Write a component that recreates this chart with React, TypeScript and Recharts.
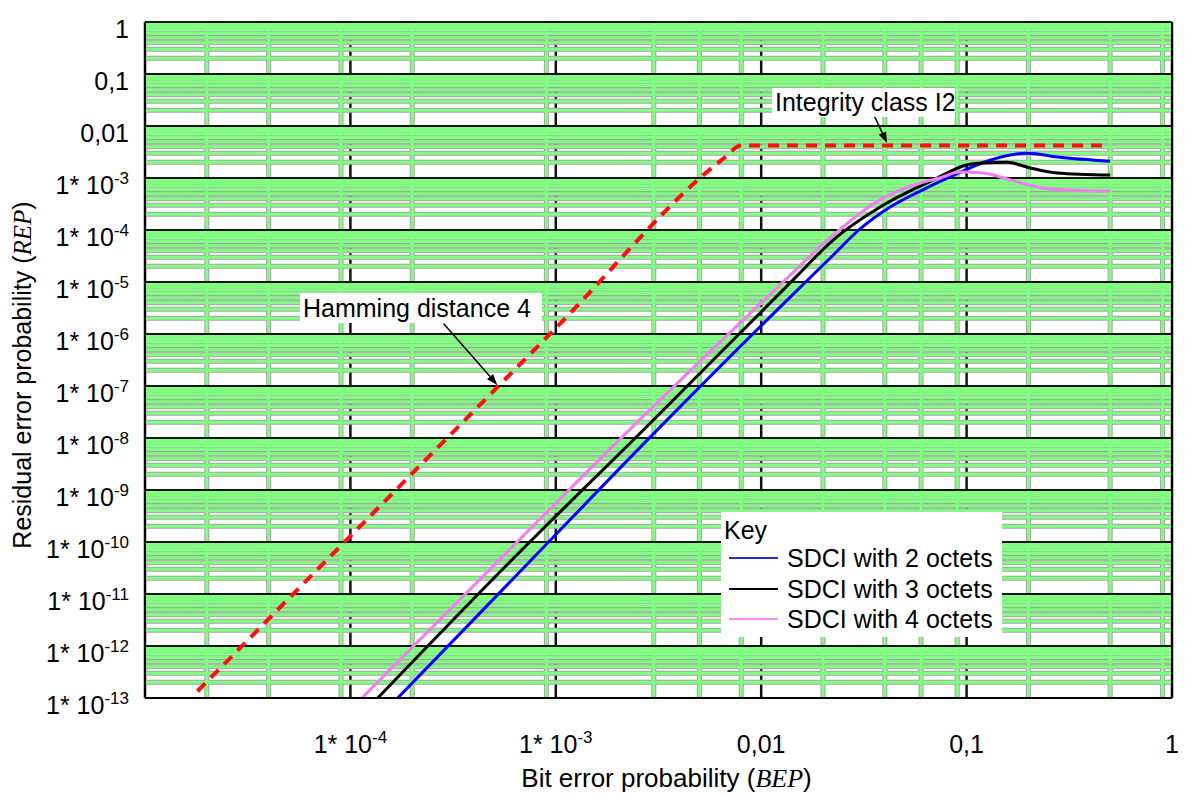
import React from 'react';
import { LineChart, Line, XAxis, YAxis, CartesianGrid, ReferenceLine } from 'recharts';

const FONT = '"Liberation Sans", Arial, sans-serif';
const SERIF = '"Liberation Serif", "Times New Roman", serif';

// axis ticks
const xTicks = [1e-4, 1e-3, 0.01, 0.1, 1];
const xTickBase = ['1* 10', '1* 10', '0,01', '0,1', '1'];
const xTickExp = ['-4', '-3', '', '', ''];

const yTicks = [1, 0.1, 0.01, 1e-3, 1e-4, 1e-5, 1e-6, 1e-7, 1e-8, 1e-9, 1e-10, 1e-11, 1e-12, 1e-13];
const yTickBase = ['1', '0,1', '0,01', '1* 10', '1* 10', '1* 10', '1* 10', '1* 10', '1* 10', '1* 10', '1* 10', '1* 10', '1* 10', '1* 10'];
const yTickExp = ['', '', '', '-3', '-4', '-5', '-6', '-7', '-8', '-9', '-10', '-11', '-12', '-13'];

// grid decades
const xDecades = [1e-5, 1e-4, 1e-3, 1e-2, 1e-1, 1];
const yDecades = [1e-13, 1e-12, 1e-11, 1e-10, 1e-9, 1e-8, 1e-7, 1e-6, 1e-5, 1e-4, 1e-3, 1e-2, 1e-1, 1];
const minorSteps = [2, 3, 4, 5, 6, 7, 8, 9];
const minorOf = (decades: number[]) =>
  decades.slice(0, -1).flatMap((d) => minorSteps.map((m) => d * m));
const xMinor = minorOf(xDecades);
const yMinor = minorOf(yDecades);

// Hamming distance 4 (red dashed)
const hdBep = [1.8e-5, 1e-4, 1e-3, 6.5e-3, 8e-3, 0.5];
const hdRep = [1.35e-13, 1.3e-10, 1.3e-6, 2.3e-3, 4.2e-3, 4.2e-3];

// SDCI with 2 octets (blue)
const s2Bep = [1.5e-4, 6.3e-4, 3.12e-3, 1.5e-2, 2.17e-2, 3.03e-2, 4.25e-2, 5.94e-2, 8.3e-2, 0.13, 0.197, 0.285, 0.5];
const s2Rep = [6e-14, 2.1e-11, 1.43e-8, 7.0e-6, 2.9e-5, 1.05e-4, 2.77e-4, 5.6e-4, 1.05e-3, 2.2e-3, 3.0e-3, 2.5e-3, 2.1e-3];

// SDCI with 3 octets (black)
const s3Bep = [1.2e-4, 5.6e-4, 2.98e-3, 1.43e-2, 2.24e-2, 4.1e-2, 6.9e-2, 0.1, 0.12, 0.157, 0.204, 0.275, 0.5];
const s3Rep = [6e-14, 3.2e-11, 2.2e-8, 1.1e-5, 6.4e-5, 3.3e-4, 9.2e-4, 1.78e-3, 1.94e-3, 2.0e-3, 1.56e-3, 1.25e-3, 1.14e-3];

// SDCI with 4 octets (pink)
const s4Bep = [1.0e-4, 5.6e-4, 2.55e-3, 1.31e-2, 2.1e-2, 3.79e-2, 5.94e-2, 7.4e-2, 9.3e-2, 0.12, 0.163, 0.235, 0.31, 0.5];
const s4Rep = [6e-14, 5.6e-11, 2.2e-8, 1.1e-5, 6.4e-5, 3.8e-4, 8.0e-4, 1.0e-3, 1.3e-3, 1.25e-3, 9.2e-4, 6.4e-4, 5.9e-4, 5.6e-4];

const toPoints = (bep: number[], rep: number[]) => bep.map((b, i) => ({ bep: b, rep: rep[i] }));

const legendItems = [
  { label: 'SDCI with 2 octets', color: '#2b2bdc' },
  { label: 'SDCI with 3 octets', color: '#000000' },
  { label: 'SDCI with 4 octets', color: '#ff88ff' },
];

const XTick = ({ x, y, index }: any) => (
  <text x={x} y={y + 55} textAnchor="middle" fontSize={25} fontFamily={FONT} fill="#000">
    <tspan>{xTickBase[index]}</tspan>
    {xTickExp[index] && <tspan dy={-10} fontSize={17}>{xTickExp[index]}</tspan>}
  </text>
);

const YTick = ({ x, y, index }: any) => (
  <text x={x - 16} y={y + 16} textAnchor="end" fontSize={25} fontFamily={FONT} fill="#000">
    <tspan>{yTickBase[index]}</tspan>
    {yTickExp[index] && <tspan dy={-10} fontSize={17}>{yTickExp[index]}</tspan>}
  </text>
);

const XTitle = ({ viewBox }: any) => (
  <text x={viewBox.x + viewBox.width / 2 + 8} y={viewBox.y + 89} textAnchor="middle" fontSize={26} fontFamily={FONT} fill="#000">
    Bit error probability (<tspan fontFamily={SERIF} fontStyle="italic">BEP</tspan>)
  </text>
);

const YTitle = ({ viewBox }: any) => {
  const cx = 22;
  const cy = viewBox.y + viewBox.height / 2 + 15;
  return (
    <text x={cx} y={cy} transform={`rotate(-90, ${cx}, ${cy})`} textAnchor="middle" dominantBaseline="central" fontSize={25} fontFamily={FONT} fill="#000">
      Residual error probability (<tspan fontFamily={SERIF} fontStyle="italic">REP</tspan>)
    </text>
  );
};

// thin arrow pointing at the curve
const Arrow = (props: any) => {
  const { x1, y1, x2, y2 } = props;
  const a = Math.atan2(y2 - y1, x2 - x1);
  const L = 11;
  const w = 4;
  const bx = x2 - L * Math.cos(a);
  const by = y2 - L * Math.sin(a);
  const px = -Math.sin(a) * w;
  const py = Math.cos(a) * w;
  return (
    <g>
      <line x1={x1} y1={y1} x2={bx} y2={by} stroke="#000" strokeWidth={1.5} />
      <polygon points={`${x2},${y2} ${bx + px},${by + py} ${bx - px},${by - py}`} fill="#000" />
    </g>
  );
};

const boxText: React.CSSProperties = {
  position: 'absolute',
  background: '#fff',
  fontFamily: FONT,
  fontSize: 25,
  color: '#000',
  whiteSpace: 'nowrap',
};

export default function App() {
  return (
    <div style={{ position: 'absolute', left: 0, top: 0, width: 1185, height: 794, background: '#fff' }}>
      <LineChart width={1185} height={794} margin={{ top: 22, right: 13, bottom: 36, left: 0 }}>
        <CartesianGrid horizontal={false} verticalValues={xDecades} stroke="#111" strokeWidth={2.5} />
        <CartesianGrid horizontalValues={yMinor} verticalValues={xMinor} stroke="#a4a4a4" strokeWidth={5} />
        <CartesianGrid horizontalValues={yMinor} verticalValues={xMinor} stroke="#80ff80" strokeWidth={3} />
        <CartesianGrid vertical={false} horizontalValues={yDecades} stroke="#111" strokeWidth={2} />
        <XAxis
          dataKey="bep"
          type="number"
          scale="log"
          domain={[1e-5, 1]}
          allowDataOverflow
          ticks={xTicks}
          tick={<XTick />}
          tickLine={false}
          tickSize={0}
          tickMargin={0}
          axisLine={{ stroke: '#000', strokeWidth: 2 }}
          height={60}
          label={<XTitle />}
        />
        <YAxis
          dataKey="rep"
          type="number"
          scale="log"
          domain={[1e-13, 1]}
          allowDataOverflow
          ticks={yTicks}
          tick={<YTick />}
          tickLine={false}
          tickSize={0}
          tickMargin={0}
          axisLine={{ stroke: '#000', strokeWidth: 2 }}
          width={145}
          interval={0}
          label={<YTitle />}
        />
        <ReferenceLine x={1} stroke="#000" strokeWidth={2} />
        <Line type="monotoneX" data={toPoints(hdBep, hdRep)} dataKey="rep" stroke="#ff1010" strokeWidth={4} strokeDasharray="11 8" dot={false} isAnimationActive={false} />
        <Line type="monotoneX" data={toPoints(s2Bep, s2Rep)} dataKey="rep" stroke="#0000ff" strokeWidth={3} dot={false} isAnimationActive={false} />
        <Line type="monotoneX" data={toPoints(s3Bep, s3Rep)} dataKey="rep" stroke="#000000" strokeWidth={3} dot={false} isAnimationActive={false} />
        <Line type="monotoneX" data={toPoints(s4Bep, s4Rep)} dataKey="rep" stroke="#f07ef0" strokeWidth={3} dot={false} isAnimationActive={false} />
        <ReferenceLine segment={[{ x: 0.035, y: 0.0178 }, { x: 0.041, y: 4.7e-3 }]} shape={<Arrow />} />
        <ReferenceLine segment={[{ x: 2.84e-4, y: 1.6e-6 }, { x: 5.19e-4, y: 1.05e-7 }]} shape={<Arrow />} />
      </LineChart>

      <div style={{ ...boxText, left: 772, top: 88, width: 183, height: 29, lineHeight: '29px', paddingLeft: 3, boxSizing: 'border-box' }}>
        Integrity class I2
      </div>
      <div style={{ ...boxText, left: 300, top: 293, width: 242, height: 30, lineHeight: '30px', paddingLeft: 3, boxSizing: 'border-box' }}>
        Hamming distance 4
      </div>

      <div style={{ ...boxText, left: 721, top: 512, width: 281, height: 125 }}>
        <div style={{ position: 'absolute', left: 3, top: 3, lineHeight: '30px' }}>Key</div>
        {legendItems.map((it, i) => (
          <div key={it.label} style={{ position: 'absolute', left: 0, top: 31 + i * 30.5, width: 281, height: 30 }}>
            <div style={{ position: 'absolute', left: 8, top: 14, width: 49, height: 2, background: it.color }} />
            <div style={{ position: 'absolute', left: 66, top: 0, lineHeight: '30px' }}>{it.label}</div>
          </div>
        ))}
      </div>
    </div>
  );
}
